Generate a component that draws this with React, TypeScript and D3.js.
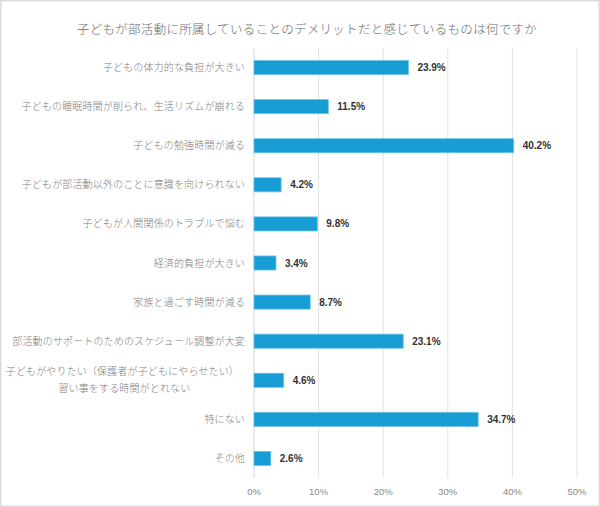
import React, { useEffect, useRef } from "react";
import * as d3 from "d3";

const title = "子どもが部活動に所属していることのデメリットだと感じているものは何ですか";

const categories: string[][] = [
  ["子どもの体力的な負担が大きい"],
  ["子どもの睡眠時間が削られ、生活リズムが崩れる"],
  ["子どもの勉強時間が減る"],
  ["子どもが部活動以外のことに意識を向けられない"],
  ["子どもが人間関係のトラブルで悩む"],
  ["経済的負担が大きい"],
  ["家族と過ごす時間が減る"],
  ["部活動のサポートのためのスケジュール調整が大変"],
  ["子どもがやりたい（保護者が子どもにやらせたい）", "習い事をする時間がとれない"],
  ["特にない"],
  ["その他"],
];

const values = [23.9, 11.5, 40.2, 4.2, 9.8, 3.4, 8.7, 23.1, 4.6, 34.7, 2.6];

const ticks = [0, 10, 20, 30, 40, 50];

const W = 600;
const H = 507;
const JP = "'Noto Sans CJK JP', 'Noto Sans', sans-serif";

export default function App() {
  const svgRef = useRef<SVGSVGElement>(null);

  useEffect(() => {
    if (!svgRef.current) return;
    const svg = d3.select(svgRef.current);
    svg.selectAll("*").remove();

    // background + thin frame
    svg
      .append("rect")
      .attr("x", 0.5)
      .attr("y", 0.5)
      .attr("width", W - 1)
      .attr("height", H - 1)
      .attr("fill", "#fff")
      .attr("stroke", "#dcdcdc")
      .attr("stroke-width", 2);

    svg
      .append("text")
      .attr("x", 307)
      .attr("y", 34)
      .attr("text-anchor", "middle")
      .attr("font-family", JP)
      .attr("font-size", 12.5)
      .attr("font-weight", 300)
      .attr("letter-spacing", 0.3)
      .attr("fill", "#6a6a6a")
      .text(title);

    const x = d3.scaleLinear().domain([0, 50]).range([254, 577]);
    const y = d3
      .scaleBand<number>()
      .domain(d3.range(categories.length))
      .range([48, 478])
      .paddingInner(0.64)
      .paddingOuter(0.32);

    // gridlines
    svg
      .append("g")
      .selectAll("line")
      .data(ticks)
      .join("line")
      .attr("x1", (d) => x(d))
      .attr("x2", (d) => x(d))
      .attr("y1", 48)
      .attr("y2", 478)
      .attr("stroke", (d) => (d === 0 ? "#d4d4d4" : "#e3e3e3"))
      .attr("stroke-width", 1);

    // tick labels
    svg
      .append("g")
      .selectAll("text")
      .data(ticks)
      .join("text")
      .attr("x", (d) => x(d))
      .attr("y", 495)
      .attr("text-anchor", "middle")
      .attr("font-family", "'Liberation Sans', Arial, sans-serif")
      .attr("font-size", 9.5)
      .attr("fill", "#8a8a8a")
      .text((d) => `${d}%`);

    // bars
    svg
      .append("g")
      .selectAll("rect")
      .data(values)
      .join("rect")
      .attr("x", x(0))
      .attr("y", (_, i) => y(i)!)
      .attr("width", (d) => x(d) - x(0))
      .attr("height", y.bandwidth())
      .attr("fill", "#179cd3")
      .attr("stroke", "#6cc4ea")
      .attr("stroke-width", 0.8);

    // value labels
    svg
      .append("g")
      .selectAll("text")
      .data(values)
      .join("text")
      .attr("x", (d) => x(d) + 9)
      .attr("y", (_, i) => y(i)! + y.bandwidth() / 2)
      .attr("dy", "0.35em")
      .attr("font-family", "'Liberation Sans', Arial, sans-serif")
      .attr("font-size", 10)
      .attr("font-weight", "bold")
      .attr("fill", "#333")
      .text((d) => `${d.toFixed(1)}%`);

    // category labels
    const labelRight = 245;
    categories.forEach((lines, i) => {
      const cy = y(i)! + y.bandwidth() / 2;
      const lh = 17;
      const top = cy - ((lines.length - 1) * lh) / 2;
      const nodes = lines.map((line, j) =>
        svg
          .append("text")
          .attr("y", top + j * lh)
          .attr("dy", "0.35em")
          .attr("font-family", JP)
          .attr("font-size", 10)
          .attr("font-weight", 300)
          .attr("letter-spacing", 0.15)
          .attr("fill", "#808080")
          .text(line)
      );
      const maxW = Math.max(...nodes.map((n) => n.node()!.getComputedTextLength()));
      const centre = labelRight - 6 - maxW / 2;
      nodes.forEach((n, j) => {
        if (lines.length === 1) {
          n.attr("x", labelRight).attr("text-anchor", "end");
        } else {
          n.attr("x", centre + (j === 0 ? 0 : 2)).attr("text-anchor", "middle");
        }
      });
    });
  }, []);

  return (
    <div style={{ position: "absolute", left: 0, top: 0 }}>
      <svg ref={svgRef} width={W} height={H} style={{ display: "block" }} />
    </div>
  );
}
